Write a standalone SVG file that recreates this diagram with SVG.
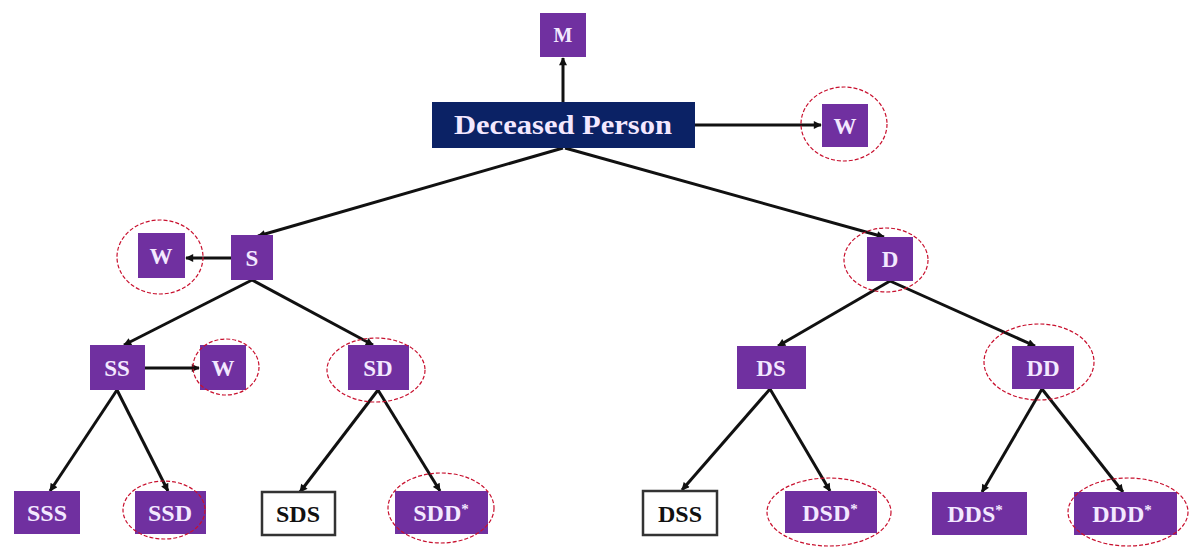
<svg xmlns="http://www.w3.org/2000/svg" width="1189" height="548" viewBox="0 0 1189 548">
<defs>
<marker id="ah" viewBox="0 0 10 10" refX="9" refY="5" markerWidth="9" markerHeight="8" markerUnits="userSpaceOnUse" orient="auto">
<path d="M0,0 L10,5 L0,10 z" fill="#111"/>
</marker>
<style>
.p{fill:#7030a0;}
.w{fill:#ffffff;stroke:#333;stroke-width:2.5;}
.t{font-family:"Liberation Serif","DejaVu Serif",serif;font-weight:bold;fill:#f3e8ff;text-anchor:middle;}
.k{font-family:"Liberation Serif","DejaVu Serif",serif;font-weight:bold;fill:#111;text-anchor:middle;}
.e{fill:none;stroke:#c8102e;stroke-width:1.2;stroke-dasharray:4 2;}
.c line{stroke:#111;stroke-width:3;marker-end:url(#ah);}
</style>
</defs>
<rect width="1189" height="548" fill="#ffffff"/>
<g id="connectors" class="c">
<line x1="563" y1="102" x2="563" y2="58"/>
<line x1="695" y1="125" x2="821" y2="125"/>
<line x1="563" y1="148" x2="258" y2="236"/>
<line x1="565" y1="148" x2="884" y2="237"/>
<line x1="231" y1="258" x2="186" y2="258"/>
<line x1="252" y1="280" x2="124" y2="345"/>
<line x1="252" y1="280" x2="373" y2="345"/>
<line x1="145" y1="368" x2="199" y2="368"/>
<line x1="117" y1="390" x2="50" y2="491"/>
<line x1="117" y1="390" x2="168" y2="491"/>
<line x1="378" y1="390" x2="300" y2="492"/>
<line x1="378" y1="390" x2="440" y2="491"/>
<line x1="890" y1="281" x2="778" y2="346"/>
<line x1="890" y1="281" x2="1035" y2="346"/>
<line x1="770" y1="389" x2="682" y2="490"/>
<line x1="770" y1="389" x2="830" y2="491"/>
<line x1="1042" y1="389" x2="982" y2="492"/>
<line x1="1042" y1="389" x2="1123" y2="492"/>
</g>
<g id="M"><rect class="p" x="540" y="13" width="46" height="44"/><text class="t" x="563" y="42" font-size="20">M</text></g>
<g id="deceased"><rect x="432" y="102" width="263" height="46" fill="#0b2265"/><text class="t" x="563" y="134" font-size="27" textLength="218" lengthAdjust="spacingAndGlyphs">Deceased Person</text></g>
<g id="W1"><rect class="p" x="822" y="104" width="46" height="43"/><text class="t" x="845" y="134" font-size="23">W</text><ellipse class="e" cx="844" cy="124" rx="43" ry="37"/></g>
<g id="S"><rect class="p" x="231" y="235" width="42" height="45"/><text class="t" x="252" y="266" font-size="23">S</text></g>
<g id="W2"><rect class="p" x="138" y="233" width="47" height="45"/><text class="t" x="161" y="264" font-size="23">W</text><ellipse class="e" cx="160" cy="257" rx="43" ry="37"/></g>
<g id="D"><rect class="p" x="867" y="237" width="46" height="44"/><text class="t" x="890" y="267" font-size="23">D</text><ellipse class="e" cx="886" cy="260" rx="42" ry="32"/></g>
<g id="SS"><rect class="p" x="90" y="345" width="55" height="45"/><text class="t" x="117" y="376" font-size="23">SS</text></g>
<g id="W3"><rect class="p" x="200" y="345" width="46" height="45"/><text class="t" x="223" y="376" font-size="23">W</text><ellipse class="e" cx="226" cy="367" rx="33" ry="28"/></g>
<g id="SD"><rect class="p" x="348" y="345" width="61" height="45"/><text class="t" x="378" y="376" font-size="23">SD</text><ellipse class="e" cx="376" cy="370" rx="49" ry="32"/></g>
<g id="DS"><rect class="p" x="737" y="346" width="69" height="43"/><text class="t" x="771" y="376" font-size="23">DS</text></g>
<g id="DD"><rect class="p" x="1012" y="346" width="62" height="43"/><text class="t" x="1043" y="376" font-size="23">DD</text><ellipse class="e" cx="1039" cy="362" rx="55" ry="38"/></g>
<g id="SSS"><rect class="p" x="14" y="491" width="66" height="43"/><text class="t" x="47" y="521" font-size="24">SSS</text></g>
<g id="SSD"><rect class="p" x="135" y="491" width="71" height="43"/><text class="t" x="170" y="521" font-size="24">SSD</text><ellipse class="e" cx="164" cy="510" rx="41" ry="29"/></g>
<g id="SDS"><rect class="w" x="262" y="492" width="73" height="43"/><text class="k" x="298" y="522" font-size="24">SDS</text></g>
<g id="SDD"><rect class="p" x="395" y="491" width="93" height="43"/><text class="t" x="441" y="521" font-size="24">SDD<tspan font-size="15" dy="-7">*</tspan></text><ellipse class="e" cx="441" cy="508" rx="53" ry="35"/></g>
<g id="DSS"><rect class="w" x="643" y="491" width="74" height="44"/><text class="k" x="680" y="522" font-size="24">DSS</text></g>
<g id="DSD"><rect class="p" x="785" y="491" width="92" height="42"/><text class="t" x="830" y="521" font-size="24">DSD<tspan font-size="15" dy="-7">*</tspan></text><ellipse class="e" cx="829" cy="512" rx="62" ry="34"/></g>
<g id="DDS"><rect class="p" x="932" y="492" width="95" height="43"/><text class="t" x="975" y="522" font-size="24">DDS<tspan font-size="15" dy="-7">*</tspan></text></g>
<g id="DDD"><rect class="p" x="1074" y="492" width="103" height="43"/><text class="t" x="1122" y="522" font-size="24">DDD<tspan font-size="15" dy="-7">*</tspan></text><ellipse class="e" cx="1128" cy="512" rx="60" ry="34"/></g>
</svg>
